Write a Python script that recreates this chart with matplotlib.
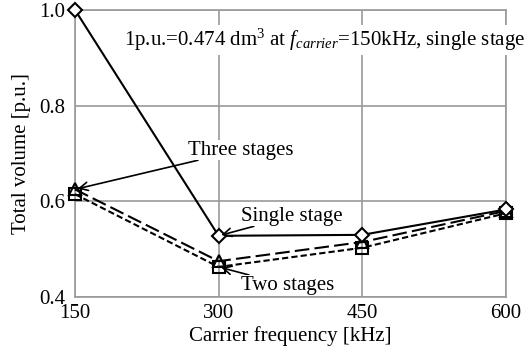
import numpy as np
import matplotlib
matplotlib.use('Agg')
from matplotlib import pyplot as plt

plt.rcParams['font.family'] = ['Liberation Serif', 'DejaVu Serif']
plt.rcParams['mathtext.fontset'] = 'custom'
plt.rcParams['mathtext.rm'] = 'Liberation Serif'
plt.rcParams['mathtext.it'] = 'Liberation Serif:italic'

## data
freq = [150, 300, 450, 600]
single_stage = [1.0, 0.528, 0.530, 0.583]
two_stages = [0.615, 0.463, 0.503, 0.575]
three_stages = [0.625, 0.475, 0.515, 0.580]

fs = 15

fig = plt.figure(figsize=(5.28, 3.52), dpi=100)
ax = fig.add_axes([0.142, 0.156, 0.816, 0.816])

ax.plot(freq, two_stages, color='black', lw=1.5, ls=(0, (3, 1.5)), marker='s',
        ms=9, mfc='none', mec='black', mew=1.5, zorder=3, clip_on=False)
ax.plot(freq, three_stages, color='black', lw=1.5, ls=(0, (7, 2.5)), marker='^',
        ms=9, mfc='none', mec='black', mew=1.5, zorder=3, clip_on=False)
ax.plot(freq, single_stage, color='black', lw=1.5, marker='D',
        ms=7, mfc='white', mec='black', mew=1.5, zorder=4, clip_on=False)

ax.set_xlim(150, 600)
ax.set_ylim(0.4, 1.0)
ax.set_xticks(freq)
ax.set_yticks([0.4, 0.6, 0.8, 1.0])
ax.set_yticklabels(['0.4', '0.6', '0.8', '1.0'])
ax.grid(True, color='#999999', lw=1.2)
ax.set_axisbelow(True)
for s in ax.spines.values():
    s.set_color('#999999')
    s.set_linewidth(1.2)
ax.tick_params(length=0, labelsize=fs)
ax.tick_params(axis='y', pad=7)
ax.tick_params(axis='x', pad=5)
ax.set_xlabel('Carrier frequency [kHz]', fontsize=fs, labelpad=2)
ax.set_ylabel('Total volume [p.u.]', fontsize=fs, labelpad=6)

ax.text(411, 0.937, r'1p.u.=0.474 dm$^3$ at $f_{carrier}$=150kHz, single stage',
        ha='center', va='center', fontsize=fs, clip_on=False,
        bbox=dict(fc='white', ec='none', pad=1), zorder=5)

arw = dict(arrowstyle='->', color='black', lw=1.2, shrinkA=0, shrinkB=2)
ax.annotate('Three stages', xy=(freq[0], three_stages[0]), xytext=(268, 0.707),
            ha='left', va='center', fontsize=fs, arrowprops=arw,
            bbox=dict(fc='white', ec='none', pad=0.5), zorder=5)
ax.annotate('Single stage', xy=(freq[1], single_stage[1]), xytext=(323, 0.569),
            ha='left', va='center', fontsize=fs, arrowprops=arw,
            bbox=dict(fc='white', ec='none', pad=0.5), zorder=5)
ax.annotate('Two stages', xy=(freq[1], two_stages[1]), xytext=(323, 0.425),
            ha='left', va='center', fontsize=fs, arrowprops=arw,
            bbox=dict(fc='white', ec='none', pad=0.5), zorder=5)

fig.savefig('out.png', dpi=100)
